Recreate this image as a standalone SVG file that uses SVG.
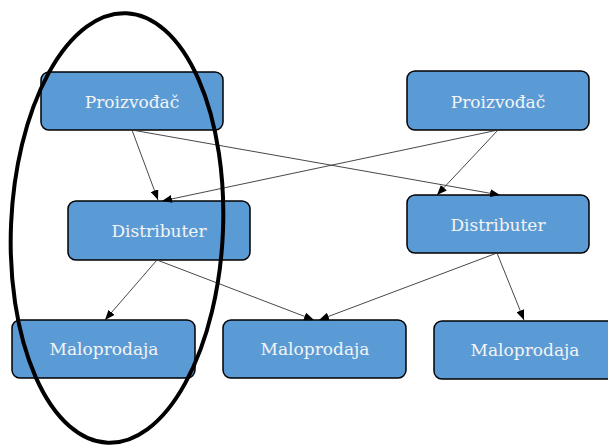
<svg xmlns="http://www.w3.org/2000/svg" width="608" height="445" viewBox="0 0 608 445">
<defs>
<marker id="arr" markerWidth="10" markerHeight="8" refX="10" refY="4" orient="auto" markerUnits="userSpaceOnUse">
<path d="M0,0 L10,4 L0,8 Z" fill="#000"/>
</marker>
<style>
.box{fill:#5b9bd5;stroke:#000;stroke-width:1.5}
.lbl{font-family:"DejaVu Serif","Liberation Serif",serif;font-size:17px;fill:#f4f4f4;text-anchor:middle}
.c{stroke:#333;stroke-width:0.9;fill:none;marker-end:url(#arr)}
</style>
</defs>
<rect width="608" height="445" fill="#fff"/>
<g id="p1"><rect class="box" x="41" y="72" width="182" height="58" rx="8"/><text class="lbl" x="132" y="108">Proizvođač</text></g>
<g id="p2"><rect class="box" x="407" y="71" width="182" height="59" rx="8"/><text class="lbl" x="498" y="108">Proizvođač</text></g>
<g id="d1"><rect class="box" x="68" y="201" width="182" height="59" rx="8"/><text class="lbl" x="159" y="237">Distributer</text></g>
<g id="d2"><rect class="box" x="407" y="195" width="182" height="58" rx="8"/><text class="lbl" x="498" y="231">Distributer</text></g>
<g id="m1"><rect class="box" x="12" y="320" width="183" height="58" rx="8"/><text class="lbl" x="104" y="355">Maloprodaja</text></g>
<g id="m2"><rect class="box" x="223" y="320" width="183" height="58" rx="8"/><text class="lbl" x="315" y="355">Maloprodaja</text></g>
<g id="m3"><rect class="box" x="434" y="321" width="183" height="58" rx="8"/><text class="lbl" x="525" y="356">Maloprodaja</text></g>
<g id="connectors">
<line class="c" x1="132" y1="130" x2="158" y2="200"/>
<line class="c" x1="132" y1="130" x2="500" y2="195"/>
<line class="c" x1="498" y1="130" x2="162" y2="201"/>
<line class="c" x1="498" y1="130" x2="437" y2="195"/>
<line class="c" x1="157" y1="260" x2="105" y2="320"/>
<line class="c" x1="157" y1="260" x2="314" y2="320"/>
<line class="c" x1="497" y1="253" x2="319" y2="320"/>
<line class="c" x1="497" y1="253" x2="524" y2="320"/>
</g>
<g id="ellipse"><ellipse cx="117" cy="228" rx="106" ry="215" transform="rotate(2.5 117 228)" fill="none" stroke="#000" stroke-width="4"/></g>
</svg>
